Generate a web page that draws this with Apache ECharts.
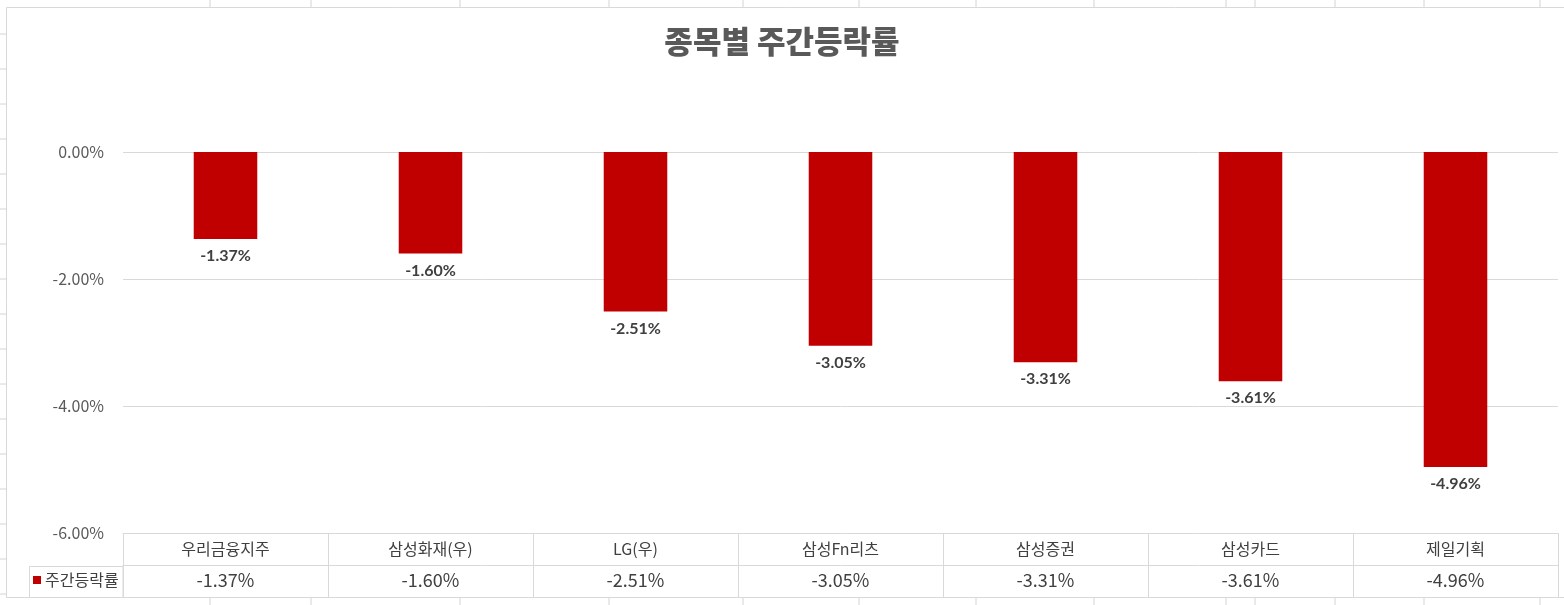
<!DOCTYPE html>
<html>
<head>
<meta charset="utf-8">
<title>종목별 주간등락률</title>
<script src="https://cdn.jsdelivr.net/npm/echarts@6/dist/echarts.min.js"></script>
<style>
  html, body { margin: 0; padding: 0; background: #fff; }
  #chart { width: 1564px; height: 605px; }
</style>
</head>
<body>
<div id="chart"></div>
<script>
const categories = ['우리금융지주', '삼성화재(우)', 'LG(우)', '삼성Fn리츠', '삼성증권', '삼성카드', '제일기획'];
const weeklyChange = [-1.37, -1.60, -2.51, -3.05, -3.31, -3.61, -4.96];
const seriesName = '주간등락률';
const yTicks = { min: -6, max: 0, interval: 2 };

// spreadsheet cell lines peeking around the chart frame
const sheetCols = [210, 311, 460, 609, 743, 859, 976, 1094, 1226, 1255, 1335, 1424, 1540];
const sheetRows = [34, 69, 104, 139, 174, 209, 244, 279, 314, 349, 384, 419, 454, 489, 524, 559, 594];

const pct = v => v.toFixed(2) + '%';
const gridColor = '#d9d9d9';
const krFont = '"Noto Sans CJK KR", "Noto Sans", sans-serif';

const sheetLines = [];
sheetCols.forEach(x => {
    sheetLines.push({ type: 'line', shape: { x1: x, y1: 0, x2: x, y2: 7 }, style: { stroke: '#d4d4d4', lineWidth: 1 }, silent: true });
    sheetLines.push({ type: 'line', shape: { x1: x, y1: 598, x2: x, y2: 605 }, style: { stroke: '#d4d4d4', lineWidth: 1 }, silent: true });
});
sheetRows.forEach(y => {
    sheetLines.push({ type: 'line', shape: { x1: 0, y1: y, x2: 6, y2: y }, style: { stroke: '#d4d4d4', lineWidth: 1 }, silent: true });
});

const chart = echarts.init(document.getElementById('chart'));
const option = {
    backgroundColor: '#fff',
    animation: false,
    title: {
        text: '종목별 주간등락률',
        left: 'center',
        top: 21,
        textStyle: { fontFamily: krFont, fontSize: 31, fontWeight: 900, color: '#595959' }
    },
    legend: {
        left: 33,
        top: 572,
        padding: 0,
        itemWidth: 8,
        itemHeight: 8,
        itemGap: 4,
        icon: 'rect',
        data: [seriesName],
        textStyle: { fontFamily: krFont, fontSize: 16, color: '#404040', padding: [0, 0, 0, -1] }
    },
    grid: { left: 123, right: 6, top: 152, bottom: 72 },
    xAxis: [
        {
            type: 'category',
            data: categories,
            position: 'bottom',
            axisLine: { show: true, onZero: false, lineStyle: { color: gridColor } },
            axisTick: { show: true, length: 64, lineStyle: { color: gridColor } },
            axisLabel: { margin: 8, fontFamily: krFont, fontSize: 16, color: '#404040' }
        },
        {
            type: 'category',
            data: categories,
            position: 'bottom',
            offset: 32,
            axisLine: { show: true, onZero: false, lineStyle: { color: gridColor } },
            axisTick: { show: false },
            axisLabel: {
                margin: 6,
                fontFamily: krFont, fontSize: 18, color: '#404040',
                formatter: (val, idx) => pct(weeklyChange[idx])
            }
        },
        {
            type: 'category',
            data: categories,
            position: 'bottom',
            offset: 64,
            axisLine: { show: true, onZero: false, lineStyle: { color: gridColor } },
            axisTick: { show: false },
            axisLabel: { show: false }
        }
    ],
    yAxis: {
        type: 'value',
        min: yTicks.min,
        max: yTicks.max,
        interval: yTicks.interval,
        axisLine: { show: false },
        axisTick: { show: false },
        splitLine: { lineStyle: { color: gridColor } },
        axisLabel: { margin: 19, fontFamily: krFont, fontSize: 16, color: '#595959', formatter: v => pct(v) }
    },
    graphic: [
        {
            type: 'rect',
            shape: { x: 6.5, y: 7.5, width: 1560, height: 590 },
            style: { fill: 'none', stroke: '#d9d9d9', lineWidth: 1 },
            silent: true, z: -1
        },
        {
            type: 'rect',
            shape: { x: 29.5, y: 566.5, width: 93.5, height: 31 },
            style: { fill: 'none', stroke: gridColor, lineWidth: 1 },
            silent: true
        }
    ].concat(sheetLines),
    series: [
        {
            name: seriesName,
            type: 'bar',
            xAxisIndex: 0,
            data: weeklyChange,
            barWidth: '31%',
            itemStyle: { color: '#c00000' },
            label: {
                show: true,
                position: 'bottom',
                distance: 9,
                fontFamily: 'Lato, "Noto Sans", sans-serif',
                fontWeight: 'bold',
                fontSize: 16,
                color: '#404040',
                formatter: p => pct(p.value)
            }
        }
    ]
};
chart.setOption(option);
</script>
</body>
</html>
